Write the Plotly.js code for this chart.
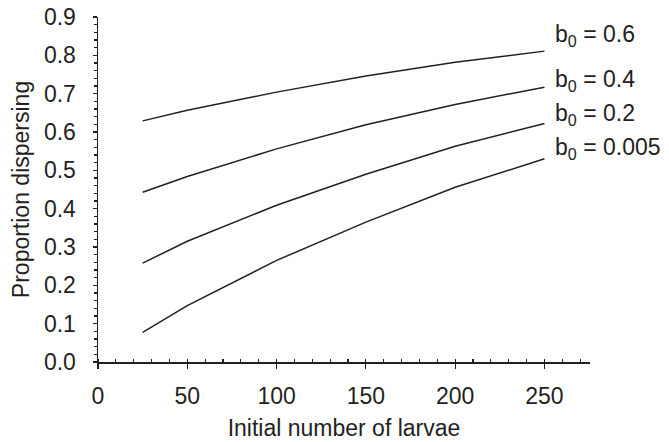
<!DOCTYPE html>
<html>
<head>
<meta charset="utf-8">
<script src="https://cdn.plot.ly/plotly-3.0.1.min.js"></script>
<style>html,body{margin:0;padding:0;background:#fff}#chart{width:669px;height:442px}</style>
</head>
<body>
<div id="chart"></div>
<script>
const larvae = [25, 50, 100, 150, 200, 250];
const b0_06   = [0.629, 0.657, 0.704, 0.746, 0.782, 0.811];
const b0_04   = [0.443, 0.484, 0.556, 0.619, 0.672, 0.717];
const b0_02   = [0.258, 0.315, 0.409, 0.490, 0.563, 0.622];
const b0_0005 = [0.077, 0.147, 0.265, 0.365, 0.456, 0.530];
const seriesLabels = ['b<sub>0</sub> = 0.6', 'b<sub>0</sub> = 0.4', 'b<sub>0</sub> = 0.2', 'b<sub>0</sub> = 0.005'];
const labelY = [0.852, 0.735, 0.646, 0.557];
const labelX = 255;
const xTickVals = [0, 50, 100, 150, 200, 250];
const xTickText = ['0', '50', '100', '150', '200', '250'];
const yTickVals = [0, 0.1, 0.2, 0.3, 0.4, 0.5, 0.6, 0.7, 0.8, 0.9];
const yTickText = ['0.0', '0.1', '0.2', '0.3', '0.4', '0.5', '0.6', '0.7', '0.8', '0.9'];
const xTitle = 'Initial number of larvae';
const yTitle = 'Proportion dispersing';

const allSeries = [b0_06, b0_04, b0_02, b0_0005];
const font = {family: 'Liberation Sans, Arial, sans-serif', size: 23, color: '#231f20'};

const traces = allSeries.map(s => ({
  x: larvae, y: s, type: 'scatter', mode: 'lines',
  line: {color: '#231f20', width: 1.5}, hoverinfo: 'skip', showlegend: false
}));

const annotations = seriesLabels.map((t, i) => ({
  x: labelX, y: labelY[i], xref: 'x', yref: 'y', text: t,
  showarrow: false, xanchor: 'left', yanchor: 'middle', font: font
}));

const layout = {
  width: 669, height: 442,
  margin: {l: 97.7, r: 79, t: 16.7, b: 80.3, pad: 0},
  paper_bgcolor: '#fff', plot_bgcolor: '#fff',
  font: font,
  showlegend: false,
  xaxis: {
    range: [0, 275.5], autorange: false, showgrid: false, zeroline: false,
    showline: true, linecolor: '#231f20', linewidth: 1.5,
    tickmode: 'array', tickvals: xTickVals, ticktext: xTickText,
    ticks: 'outside', ticklen: 5, tickwidth: 1.2, tickcolor: '#231f20',
    ticklabelstandoff: 8,
    minor: {dtick: 10, tick0: 0, ticks: 'inside', ticklen: 3, tickwidth: 1.2, tickcolor: '#231f20', showgrid: false},
    title: {text: xTitle, font: font, standoff: 12}
  },
  yaxis: {
    range: [0, 0.9], autorange: false, showgrid: false, zeroline: false,
    showline: true, linecolor: '#231f20', linewidth: 1.5,
    tickmode: 'array', tickvals: yTickVals, ticktext: yTickText,
    ticks: 'outside', ticklen: 4, tickwidth: 1.2, tickcolor: '#231f20',
    ticklabelstandoff: 12,
    minor: {dtick: 0.02, tick0: 0, ticks: 'outside', ticklen: 3, tickwidth: 1.2, tickcolor: '#231f20', showgrid: false},
    title: {text: yTitle, font: font, standoff: 8}
  },
  yaxis2: {
    overlaying: 'y', side: 'left', anchor: 'x',
    range: [0, 0.9], autorange: false, showgrid: false, zeroline: false,
    showline: false, showticklabels: false,
    tickmode: 'array', tickvals: yTickVals,
    ticks: 'inside', ticklen: 4, tickwidth: 1.2, tickcolor: '#231f20',
    minor: {dtick: 0.02, tick0: 0, ticks: 'inside', ticklen: 3, tickwidth: 1.2, tickcolor: '#231f20', showgrid: false}
  },
  annotations: annotations
};

Plotly.newPlot('chart', traces, layout, {staticPlot: true, displayModeBar: false});
</script>
</body>
</html>
